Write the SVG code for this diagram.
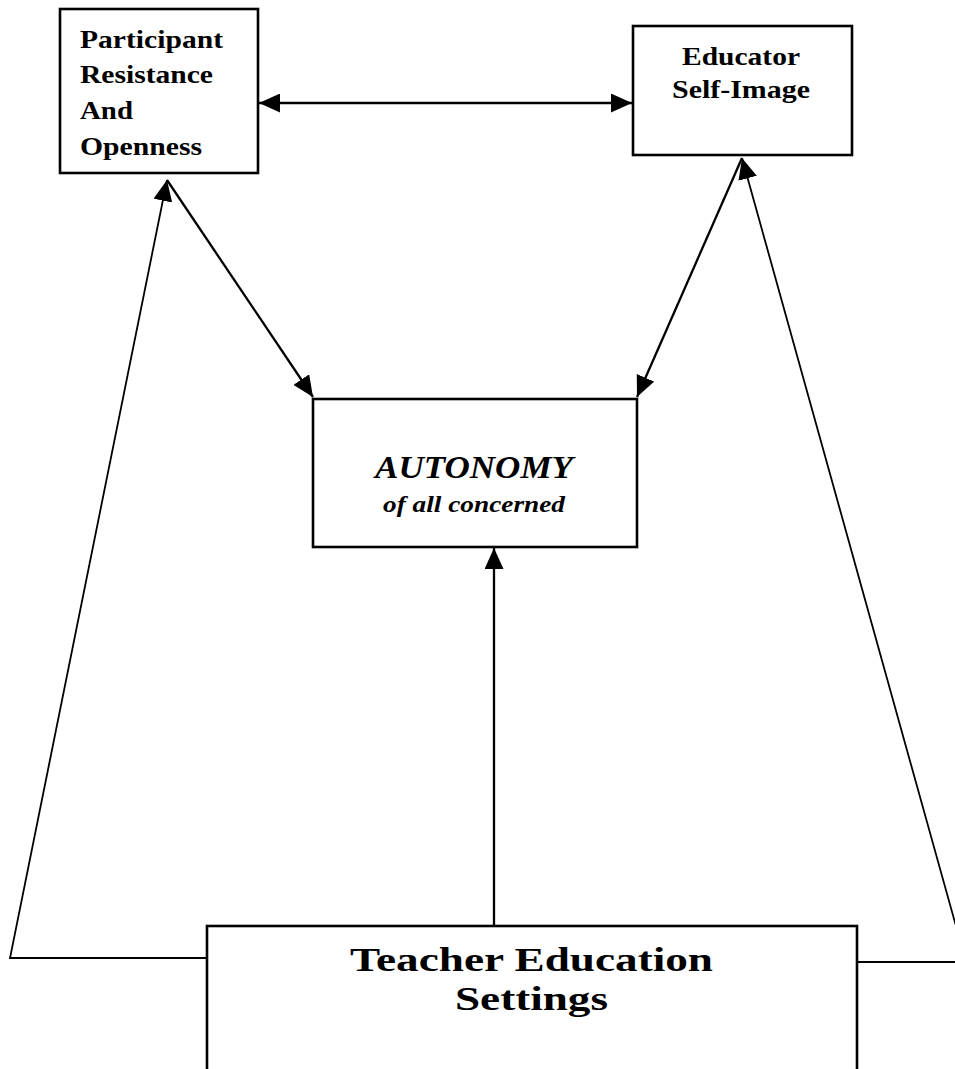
<svg xmlns="http://www.w3.org/2000/svg" width="955" height="1069" viewBox="0 0 955 1069">
<style>
.box{fill:#fff;stroke:#000;stroke-width:2.6}
.ln{fill:none;stroke:#000;stroke-width:2.3}
.thin{fill:none;stroke:#000;stroke-width:1.8}
.t{font-family:"Liberation Serif","Times New Roman",serif;font-weight:bold;fill:#000}
.it{font-style:italic}
</style>
<defs>
<marker id="ah" viewBox="0 0 21 19" refX="21" refY="9.5" markerWidth="21" markerHeight="19" markerUnits="userSpaceOnUse" orient="auto-start-reverse">
<path d="M0,0 L21,9.5 L0,19 z" fill="#000"/>
</marker>
</defs>
<rect width="955" height="1069" fill="#fff"/>
<g id="connectors">
<line class="ln" x1="259" y1="103" x2="632" y2="103" marker-start="url(#ah)" marker-end="url(#ah)"/>
<line class="ln" x1="167" y1="180" x2="313" y2="397" marker-end="url(#ah)"/>
<line class="ln" x1="742" y1="158" x2="637" y2="397" marker-end="url(#ah)"/>
<line class="ln" x1="494" y1="926" x2="494" y2="548" marker-end="url(#ah)"/>
<path class="thin" d="M207 958 L10 958 L167 180" marker-end="url(#ah)"/>
<path class="thin" d="M857 962 L966 962 L742 158" marker-end="url(#ah)"/>
</g>
<g id="participant">
<rect class="box" x="60" y="9" width="198" height="164"/>
<text class="t" font-size="25" x="80" y="48" textLength="143" lengthAdjust="spacingAndGlyphs">Participant</text>
<text class="t" font-size="25" x="80" y="83" textLength="133" lengthAdjust="spacingAndGlyphs">Resistance</text>
<text class="t" font-size="25" x="80" y="119" textLength="53" lengthAdjust="spacingAndGlyphs">And</text>
<text class="t" font-size="25" x="80" y="155" textLength="122" lengthAdjust="spacingAndGlyphs">Openness</text>
</g>
<g id="educator">
<rect class="box" x="633" y="26" width="219" height="129"/>
<text class="t" font-size="25" x="682" y="65" textLength="118" lengthAdjust="spacingAndGlyphs">Educator</text>
<text class="t" font-size="25" x="672" y="98" textLength="138" lengthAdjust="spacingAndGlyphs">Self-Image</text>
</g>
<g id="autonomy">
<rect class="box" x="313" y="399" width="324" height="148"/>
<text class="t it" font-size="32" x="375" y="478" textLength="198" lengthAdjust="spacingAndGlyphs">AUTONOMY</text>
<text class="t it" font-size="24" x="383" y="512" textLength="182" lengthAdjust="spacingAndGlyphs">of all concerned</text>
</g>
<g id="settings">
<rect class="box" x="207" y="926" width="650" height="145"/>
<text class="t" font-size="34" x="350" y="971" textLength="363" lengthAdjust="spacingAndGlyphs">Teacher Education</text>
<text class="t" font-size="34" x="455" y="1010" textLength="153" lengthAdjust="spacingAndGlyphs">Settings</text>
</g>
</svg>
